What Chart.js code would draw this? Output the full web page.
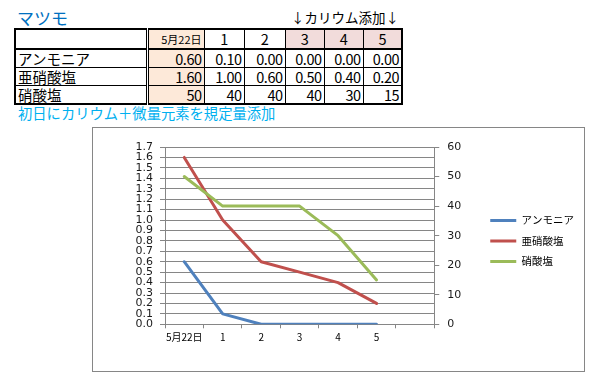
<!DOCTYPE html>
<html lang="ja">
<head>
<meta charset="UTF-8">
<title>マツモ</title>
<script src="https://cdn.jsdelivr.net/npm/chart.js@4.4.0/dist/chart.umd.min.js"></script>
<style>
  body { margin:0; background:#fff; font-family:"Noto Sans CJK JP", sans-serif; width:599px; height:385px; position:relative; overflow:hidden; }
  .title { position:absolute; left:17px; top:9px; font-size:17px; line-height:18px; color:#0070c0; }
  .potash { position:absolute; left:291px; top:10px; font-size:13.5px; line-height:15px; color:#000; }
  .note { position:absolute; left:18px; top:106px; font-size:14.3px; line-height:14px; color:#00b0f0; }
  #tbl { position:absolute; left:14px; top:28px; border-collapse:collapse; table-layout:fixed; border:2px solid #000; }
  #tbl td { border:1px solid #000; padding:0 2px; height:17px; font-size:14.5px; line-height:14px; text-align:right; letter-spacing:-0.5px; white-space:nowrap; overflow:hidden; }
  #tbl td.name { text-align:left; border-right:3px double #000; letter-spacing:0; }
  #tbl tr.head td { border-bottom:2px solid #000; text-align:center; height:18px; }
  #tbl td.first { background:#fde9d9; }
  #tbl tr.head td.first { font-size:11px; text-align:right; letter-spacing:0; }
  #tbl tr.head td.potashday { background:#f2dcdb; }
  #box { position:absolute; left:92px; top:127px; width:491px; height:243px; border:1px solid #868686; }
  #box canvas { display:block; }
</style>
</head>
<body>
<div class="title">マツモ</div>
<div class="potash">↓カリウム添加↓</div>
<table id="tbl">
  <colgroup>
    <col style="width:132px"><col style="width:57px"><col style="width:40px">
    <col style="width:41px"><col style="width:39px"><col style="width:39px"><col style="width:39px">
  </colgroup>
  <tbody></tbody>
</table>
<div class="note">初日にカリウム＋微量元素を規定量添加</div>
<div id="box"><canvas id="c" width="491" height="243"></canvas></div>

<script>
// values
const days = ['5月22日', '1', '2', '3', '4', '5'];
const ammonia = [0.6, 0.1, 0, 0, 0, 0];
const nitrite = [1.6, 1.0, 0.6, 0.5, 0.4, 0.2];
const nitrate = [50, 40, 40, 40, 30, 15];
const seriesNames = ['アンモニア', '亜硝酸塩', '硝酸塩'];
const seriesColors = ['#4f81bd', '#c0504d', '#9bbb59'];
const potashDays = ['3', '4', '5'];

const leftMax = 1.7, leftStep = 0.1;
const rightMax = 60, rightStep = 10;

// table above the chart
const tbody = document.querySelector('#tbl tbody');
function addRow(name, cells, head) {
    const tr = document.createElement('tr');
    if (head) tr.className = 'head';
    const th = document.createElement('td');
    th.className = 'name';
    th.textContent = name;
    tr.appendChild(th);
    cells.forEach((txt, i) => {
        const td = document.createElement('td');
        td.textContent = txt;
        if (i === 0) td.classList.add('first');
        if (head && potashDays.includes(days[i])) td.classList.add('potashday');
        tr.appendChild(td);
    });
    tbody.appendChild(tr);
}
addRow('', days, true);
addRow(seriesNames[0], ammonia.map(v => v.toFixed(2)));
addRow(seriesNames[1], nitrite.map(v => v.toFixed(2)));
addRow(seriesNames[2], nitrate.map(v => String(v)));

// chart
const axisGrey = '#868686';
const jpFont = '"Noto Sans CJK JP", sans-serif';
const numFont = '"DejaVu Sans", Verdana, sans-serif';

function drawChart() {
    new Chart(document.getElementById('c'), {
        type: 'line',
        data: {
            labels: days.concat(['']),
            datasets: [
                { label: seriesNames[0], data: ammonia, borderColor: seriesColors[0], backgroundColor: seriesColors[0], yAxisID: 'y', order: 3 },
                { label: seriesNames[1], data: nitrite, borderColor: seriesColors[1], backgroundColor: seriesColors[1], yAxisID: 'y', order: 2 },
                { label: seriesNames[2], data: nitrate, borderColor: seriesColors[2], backgroundColor: seriesColors[2], yAxisID: 'y1', order: 1 }
            ]
        },
        options: {
            responsive: false,
            animation: false,
            layout: { padding: { top: 19, right: 0, bottom: 0, left: 0 } },
            elements: {
                line: { borderWidth: 3, tension: 0, borderJoinStyle: 'round', borderCapStyle: 'round' },
                point: { radius: 0, hoverRadius: 0 }
            },
            plugins: {
                tooltip: { enabled: false },
                legend: {
                    position: 'right',
                    fullSize: false,
                    align: 'center',
                    maxWidth: 140,
                    title: { display: true, text: '', font: { size: 1 }, padding: { top: 9.3, bottom: 0 } },
                    labels: {
                        boxWidth: 26,
                        boxHeight: 3,
                        padding: 10,
                        color: '#000',
                        font: { family: jpFont, size: 10.5 },
                        sort: (a, b) => a.datasetIndex - b.datasetIndex,
                        generateLabels(chart) {
                            return Chart.defaults.plugins.legend.labels.generateLabels(chart)
                                .map(item => Object.assign(item, { lineWidth: 0 }));
                        }
                    }
                }
            },
            scales: {
                x: {
                    offset: true,
                    grid: { offset: true, drawOnChartArea: false, tickLength: 4, color: axisGrey },
                    border: { color: axisGrey },
                    ticks: { autoSkip: false, maxRotation: 0, padding: 3, color: '#000', font: { family: jpFont, size: 10 } },
                    afterFit(s) { s.height = 46.7; }
                },
                y: {
                    position: 'left',
                    min: 0,
                    max: leftMax,
                    grid: { color: axisGrey, tickLength: 5 },
                    border: { color: axisGrey },
                    ticks: {
                        stepSize: leftStep,
                        autoSkip: false,
                        padding: 7,
                        color: '#1a1a1a',
                        font: { family: numFont, size: 11, lineHeight: 1 },
                        callback: v => v.toFixed(1)
                    },
                    afterFit(s) { s.width = 72; }
                },
                y1: {
                    position: 'right',
                    min: 0,
                    max: rightMax,
                    grid: { drawOnChartArea: false, color: axisGrey, tickLength: 5 },
                    border: { color: axisGrey },
                    ticks: { stepSize: rightStep, autoSkip: false, padding: 8, color: '#1a1a1a', font: { family: numFont, size: 11 } },
                    afterFit(s) { s.width = 46; }
                }
            }
        }
    });
}

// make sure the CJK face is ready before the legend gets measured
Promise.all([
    document.fonts.load('10.5px "Noto Sans CJK JP"', seriesNames.join('')),
    document.fonts.load('11px "DejaVu Sans"', '0123456789.')
]).then(drawChart, drawChart);
</script>
</body>
</html>
